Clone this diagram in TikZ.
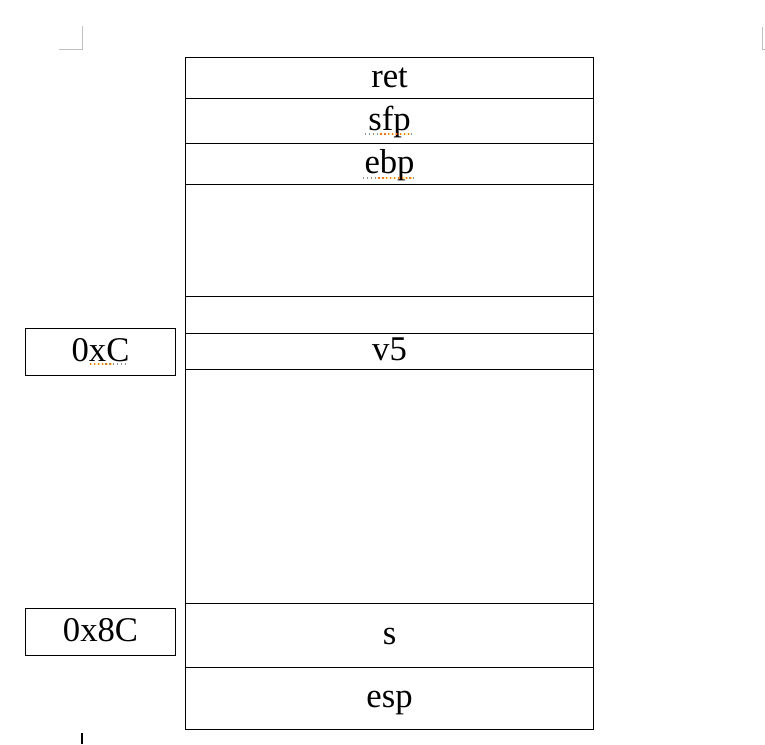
\documentclass[tikz,border=0pt]{standalone}
\usepackage{fontspec}
\setmainfont{Liberation Serif}
\usetikzlibrary{positioning}
\newcommand{\stackfont}{\fontsize{26}{30}\selectfont}

\begin{document}
\begin{tikzpicture}[x=0.75pt,y=-0.75pt,font=\stackfont,
  cell/.style={draw,line width=0.8pt,inner sep=0pt,anchor=north west,minimum width=306pt,
    text height=19pt,text depth=5pt},
  tag/.style={draw,line width=0.8pt,inner sep=0pt,anchor=north west,minimum width=112.5pt,minimum height=35.25pt,
    text height=19pt,text depth=5pt},
  squiggle/.style={orange!90!red,dotted,line width=0.9pt}]
  \useasboundingbox (0,0) rectangle (765,744);
  % page marks
  \draw[gray!50,line width=0.6pt] (59,49) -- (82,49) -- (82,26);
  \draw[gray!50,line width=0.6pt] (765,49) -- (762,49) -- (762,27);
  \draw[line width=1.5pt] (82,733) -- (82,744);
  % stack frame
  \foreach \name/\top/\h/\lab in {ret/57/41/ret,sfp/98/45/sfp,ebp/143/41/ebp,pad/184/112/,
      buf/296/37/,vfive/333/36/v5,arr/369/234/,s/603/64/s,esp/667/62/esp}
    \node[cell,minimum height=\h*0.75pt] (\name) at (185,\top) {\lab};
  % offsets
  \node[tag] (offv) at (25,328) {0xC};
  \node[tag] (offs) at (25,608) {0x8C};
  % spell-check marks
  \draw[squiggle] (365,134) -- (412,134);
  \draw[squiggle] (363,178) -- (417,178);
  \draw[squiggle] (90,364) -- (127,364);
\end{tikzpicture}
\end{document}
